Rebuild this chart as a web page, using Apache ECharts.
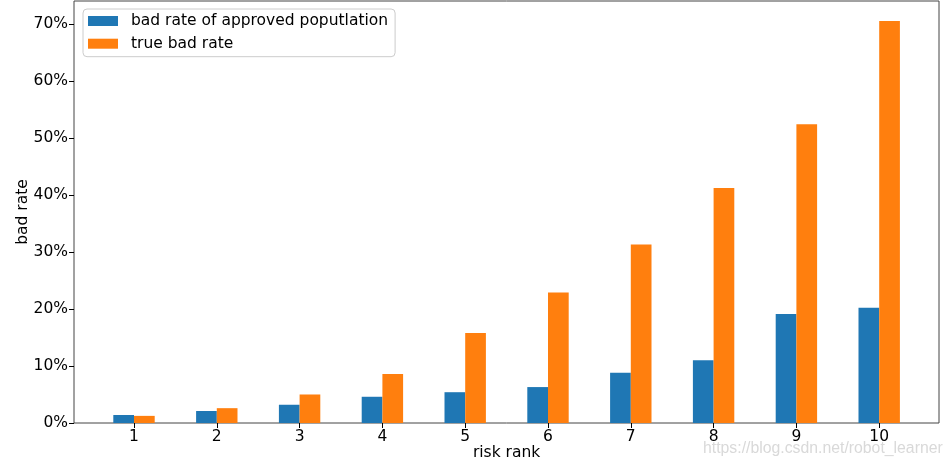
<!DOCTYPE html>
<html><head><meta charset="utf-8">
<script src="https://cdn.jsdelivr.net/npm/echarts@6/dist/echarts.min.js"></script>
<style>html,body{margin:0;padding:0;background:#fff}#c{width:952px;height:466px}</style>
</head><body><div id="c"></div>
<script>
const categories = ['1','2','3','4','5','6','7','8','9','10'];
const approvedBadRate = [1.4, 2.1, 3.2, 4.6, 5.4, 6.3, 8.8, 11.0, 19.1, 20.2];
const trueBadRate = [1.25, 2.6, 5.0, 8.6, 15.8, 22.9, 31.3, 41.2, 52.4, 70.5];
const yTicks = [0, 10, 20, 30, 40, 50, 60, 70];

const FONT = 'DejaVu Sans';
const FS = 15.5;
const chart = echarts.init(document.getElementById('c'), null, {renderer: 'canvas'});
chart.setOption({
  animation: false,
  backgroundColor: '#fff',
  textStyle: {fontFamily: FONT},
  grid: [
    {left: 92.6, top: 1, width: 828, height: 422, show: false, containLabel: false, outerBoundsMode: 'none'},
    {left: 74, top: 1, width: 865, height: 422, show: true, borderColor: '#444', borderWidth: 1, backgroundColor: 'transparent', containLabel: false, outerBoundsMode: 'none'}
  ],
  legend: {
    orient: 'vertical', left: 83, top: 9,
    padding: [3, 7, 4, 5],
    itemWidth: 30, itemHeight: 10, itemGap: 4.7,
    icon: 'rect',
    backgroundColor: 'rgba(255,255,255,0.8)',
    borderColor: '#ccc', borderWidth: 1, borderRadius: 4,
    textStyle: {fontFamily: FONT, fontSize: FS, color: '#000', lineHeight: 18, padding: [0, 0, 0, 8]},
    data: ['bad rate of approved poputlation', 'true bad rate']
  },
  xAxis: [
    {type: 'category', gridIndex: 0, data: categories, boundaryGap: true,
     name: 'risk rank', nameLocation: 'middle', nameGap: 22, nameMoveOverlap: false,
     nameTextStyle: {fontFamily: FONT, fontSize: FS, color: '#000'},
     axisLine: {show: false},
     axisTick: {show: true, alignWithLabel: true, length: 5, lineStyle: {color: '#000'}},
     axisLabel: {fontFamily: FONT, fontSize: FS, color: '#000', margin: 5.5},
     splitLine: {show: false}},
    {type: 'value', gridIndex: 1, show: false, min: 0, max: 1}
  ],
  yAxis: [
    {type: 'value', gridIndex: 0, show: false, min: 0, max: 74},
    {type: 'value', gridIndex: 1, min: 0, max: 74,
     name: 'bad rate', nameLocation: 'middle', nameGap: 43, nameMoveOverlap: false,
     nameTextStyle: {fontFamily: FONT, fontSize: FS, color: '#000'},
     axisLine: {show: false},
     axisTick: {show: true, length: 5, lineStyle: {color: '#000'}, customValues: yTicks},
     axisLabel: {fontFamily: FONT, fontSize: FS, color: '#000', margin: 6, customValues: yTicks, formatter: '{value}%'},
     splitLine: {show: false}}
  ],
  series: [
    {name: 'bad rate of approved poputlation', type: 'bar', xAxisIndex: 0, yAxisIndex: 0,
     data: approvedBadRate, barWidth: 20.7, barGap: '0%', itemStyle: {color: '#1f77b4'}},
    {name: 'true bad rate', type: 'bar', xAxisIndex: 0, yAxisIndex: 0,
     data: trueBadRate, barWidth: 20.7, barGap: '0%', itemStyle: {color: '#ff7f0e'}}
  ],
  graphic: [
    {type: 'text', left: 703, top: 441, silent: true,
     style: {text: 'https://blog.csdn.net/robot_learner', fontFamily: 'Liberation Sans', fontSize: 15.8, fill: '#d9d9d9'}}
  ]
});
</script></body></html>
